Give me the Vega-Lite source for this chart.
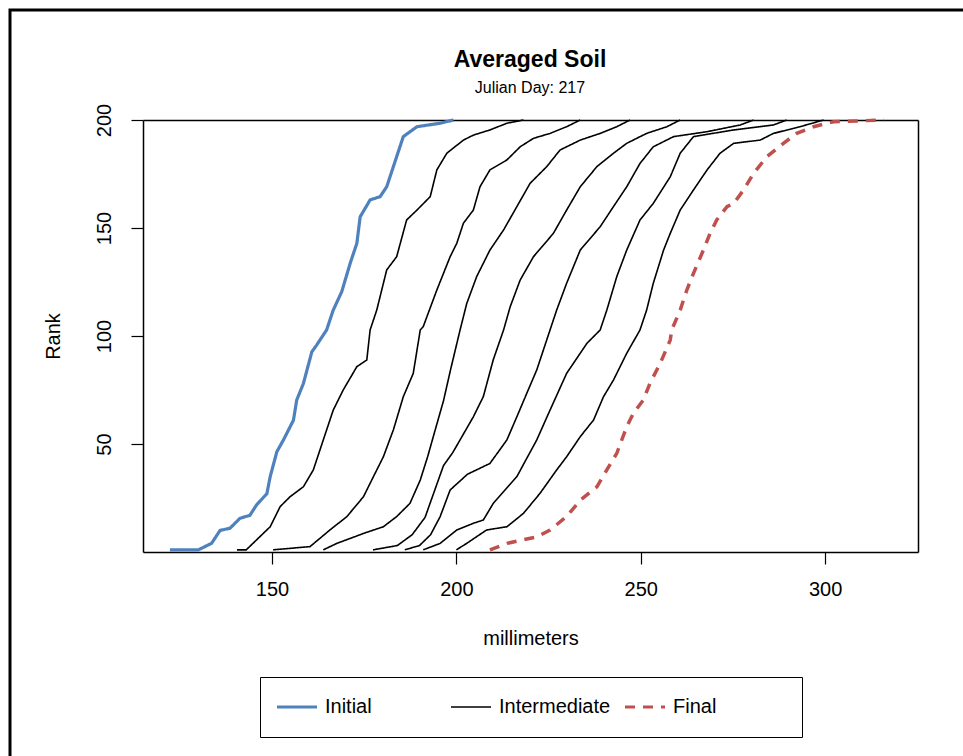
{
  "$schema": "https://vega.github.io/schema/vega-lite/v6.json",
  "width": 960,
  "height": 760,
  "autosize": "none",
  "padding": {"left": 10, "top": 10, "right": 0, "bottom": 0},
  "background": "white",
  "title": {
    "text": "Averaged Soil",
    "subtitle": "Julian Day: 217",
    "anchor": "middle",
    "frame": "group",
    "dx": 40,
    "offset": -86,
    "font": "Liberation Sans",
    "fontSize": 23,
    "fontWeight": "bold",
    "color": "black",
    "subtitleFont": "Liberation Sans",
    "subtitleFontSize": 16,
    "subtitleColor": "black",
    "subtitlePadding": 8
  },
  "data": {
    "values": [
      {"s":"I","t":"Initial","mm":122.3,"rank":1},{"s":"I","t":"Initial","mm":130,"rank":1},{"s":"I","t":"Initial","mm":133.6,"rank":4},{"s":"I","t":"Initial","mm":135.9,"rank":10},{"s":"I","t":"Initial","mm":138.6,"rank":11},{"s":"I","t":"Initial","mm":141.3,"rank":15.6},{"s":"I","t":"Initial","mm":144,"rank":17},{"s":"I","t":"Initial","mm":145.8,"rank":21.8},{"s":"I","t":"Initial","mm":148.6,"rank":27},{"s":"I","t":"Initial","mm":149.5,"rank":34.9},{"s":"I","t":"Initial","mm":151.3,"rank":46.4},{"s":"I","t":"Initial","mm":153.1,"rank":51.9},{"s":"I","t":"Initial","mm":155.8,"rank":61},{"s":"I","t":"Initial","mm":156.7,"rank":70.4},{"s":"I","t":"Initial","mm":158.5,"rank":78},{"s":"I","t":"Initial","mm":160.8,"rank":92.7},{"s":"I","t":"Initial","mm":162.1,"rank":95.8},{"s":"I","t":"Initial","mm":164.8,"rank":102.8},{"s":"I","t":"Initial","mm":166.6,"rank":112},{"s":"I","t":"Initial","mm":168.9,"rank":120.5},{"s":"I","t":"Initial","mm":171.2,"rank":133.7},{"s":"I","t":"Initial","mm":173,"rank":142.9},{"s":"I","t":"Initial","mm":173.9,"rank":155.2},{"s":"I","t":"Initial","mm":176.6,"rank":163},{"s":"I","t":"Initial","mm":179.3,"rank":164.5},{"s":"I","t":"Initial","mm":181.1,"rank":169.1},{"s":"I","t":"Initial","mm":182.9,"rank":178.4},{"s":"I","t":"Initial","mm":185.6,"rank":192.3},{"s":"I","t":"Initial","mm":189.3,"rank":196.9},{"s":"I","t":"Initial","mm":195.6,"rank":198.5},{"s":"I","t":"Initial","mm":199.2,"rank":200},

      {"s":"B1","t":"Intermediate","mm":140.5,"rank":1},{"s":"B1","t":"Intermediate","mm":143,"rank":1},{"s":"B1","t":"Intermediate","mm":145.8,"rank":5.6},{"s":"B1","t":"Intermediate","mm":149.5,"rank":11.7},{"s":"B1","t":"Intermediate","mm":152.2,"rank":21},{"s":"B1","t":"Intermediate","mm":154.9,"rank":25.6},{"s":"B1","t":"Intermediate","mm":158.5,"rank":30.2},{"s":"B1","t":"Intermediate","mm":161.2,"rank":38},{"s":"B1","t":"Intermediate","mm":163.9,"rank":51.9},{"s":"B1","t":"Intermediate","mm":166.6,"rank":65.7},{"s":"B1","t":"Intermediate","mm":169.3,"rank":75},{"s":"B1","t":"Intermediate","mm":173,"rank":85.8},{"s":"B1","t":"Intermediate","mm":175.7,"rank":88.9},{"s":"B1","t":"Intermediate","mm":176.6,"rank":102.8},{"s":"B1","t":"Intermediate","mm":178.4,"rank":112},{"s":"B1","t":"Intermediate","mm":181.1,"rank":130.6},{"s":"B1","t":"Intermediate","mm":183.8,"rank":136.7},{"s":"B1","t":"Intermediate","mm":186.5,"rank":153.7},{"s":"B1","t":"Intermediate","mm":189.3,"rank":158.3},{"s":"B1","t":"Intermediate","mm":192.9,"rank":164.5},{"s":"B1","t":"Intermediate","mm":194.7,"rank":176.9},{"s":"B1","t":"Intermediate","mm":197.4,"rank":184.6},{"s":"B1","t":"Intermediate","mm":201.9,"rank":190.7},{"s":"B1","t":"Intermediate","mm":204.6,"rank":193},{"s":"B1","t":"Intermediate","mm":209.1,"rank":195.4},{"s":"B1","t":"Intermediate","mm":213.7,"rank":198.5},{"s":"B1","t":"Intermediate","mm":218.2,"rank":200},

      {"s":"B2","t":"Intermediate","mm":150.3,"rank":1},{"s":"B2","t":"Intermediate","mm":160.3,"rank":2.5},{"s":"B2","t":"Intermediate","mm":165.7,"rank":10.2},{"s":"B2","t":"Intermediate","mm":170.3,"rank":16.4},{"s":"B2","t":"Intermediate","mm":174.8,"rank":25.6},{"s":"B2","t":"Intermediate","mm":177.5,"rank":34.9},{"s":"B2","t":"Intermediate","mm":180.2,"rank":44.1},{"s":"B2","t":"Intermediate","mm":182.9,"rank":56.5},{"s":"B2","t":"Intermediate","mm":185.6,"rank":71.9},{"s":"B2","t":"Intermediate","mm":188.3,"rank":82.7},{"s":"B2","t":"Intermediate","mm":190.2,"rank":102.8},{"s":"B2","t":"Intermediate","mm":191,"rank":104.3},{"s":"B2","t":"Intermediate","mm":194.7,"rank":121.3},{"s":"B2","t":"Intermediate","mm":198.3,"rank":136.7},{"s":"B2","t":"Intermediate","mm":200.1,"rank":142.9},{"s":"B2","t":"Intermediate","mm":201.9,"rank":152.2},{"s":"B2","t":"Intermediate","mm":204.6,"rank":158.3},{"s":"B2","t":"Intermediate","mm":206.4,"rank":169.1},{"s":"B2","t":"Intermediate","mm":209.1,"rank":176.9},{"s":"B2","t":"Intermediate","mm":213.7,"rank":181.5},{"s":"B2","t":"Intermediate","mm":217.3,"rank":187.6},{"s":"B2","t":"Intermediate","mm":220.9,"rank":191.5},{"s":"B2","t":"Intermediate","mm":225.4,"rank":193.8},{"s":"B2","t":"Intermediate","mm":229.9,"rank":196.9},{"s":"B2","t":"Intermediate","mm":233.6,"rank":200},

      {"s":"B3","t":"Intermediate","mm":163.9,"rank":1},{"s":"B3","t":"Intermediate","mm":167.6,"rank":4},{"s":"B3","t":"Intermediate","mm":174.8,"rank":8.6},{"s":"B3","t":"Intermediate","mm":180.2,"rank":11.7},{"s":"B3","t":"Intermediate","mm":183.8,"rank":16.4},{"s":"B3","t":"Intermediate","mm":187.4,"rank":22.5},{"s":"B3","t":"Intermediate","mm":190.2,"rank":33.3},{"s":"B3","t":"Intermediate","mm":192.2,"rank":44.1},{"s":"B3","t":"Intermediate","mm":194,"rank":55},{"s":"B3","t":"Intermediate","mm":196.5,"rank":70},{"s":"B3","t":"Intermediate","mm":198.5,"rank":85},{"s":"B3","t":"Intermediate","mm":201,"rank":102.8},{"s":"B3","t":"Intermediate","mm":202.8,"rank":115},{"s":"B3","t":"Intermediate","mm":205.5,"rank":127.5},{"s":"B3","t":"Intermediate","mm":209.1,"rank":139.8},{"s":"B3","t":"Intermediate","mm":212.8,"rank":149.1},{"s":"B3","t":"Intermediate","mm":216.4,"rank":159.9},{"s":"B3","t":"Intermediate","mm":220,"rank":170.7},{"s":"B3","t":"Intermediate","mm":224.5,"rank":178.4},{"s":"B3","t":"Intermediate","mm":228.1,"rank":186.1},{"s":"B3","t":"Intermediate","mm":233.6,"rank":190.7},{"s":"B3","t":"Intermediate","mm":239,"rank":193.8},{"s":"B3","t":"Intermediate","mm":243.5,"rank":196.9},{"s":"B3","t":"Intermediate","mm":247.1,"rank":200},

      {"s":"B4","t":"Intermediate","mm":177.4,"rank":1},{"s":"B4","t":"Intermediate","mm":184,"rank":3},{"s":"B4","t":"Intermediate","mm":188,"rank":8},{"s":"B4","t":"Intermediate","mm":191.5,"rank":16},{"s":"B4","t":"Intermediate","mm":194,"rank":28},{"s":"B4","t":"Intermediate","mm":196.5,"rank":40},{"s":"B4","t":"Intermediate","mm":199,"rank":46},{"s":"B4","t":"Intermediate","mm":201,"rank":51.9},{"s":"B4","t":"Intermediate","mm":204.6,"rank":62.6},{"s":"B4","t":"Intermediate","mm":207.3,"rank":71.9},{"s":"B4","t":"Intermediate","mm":210,"rank":89},{"s":"B4","t":"Intermediate","mm":212.8,"rank":102.8},{"s":"B4","t":"Intermediate","mm":214.6,"rank":113.6},{"s":"B4","t":"Intermediate","mm":217.3,"rank":125.9},{"s":"B4","t":"Intermediate","mm":220.9,"rank":136.7},{"s":"B4","t":"Intermediate","mm":226.3,"rank":147.5},{"s":"B4","t":"Intermediate","mm":229.9,"rank":158.3},{"s":"B4","t":"Intermediate","mm":233.6,"rank":169.1},{"s":"B4","t":"Intermediate","mm":238.1,"rank":178.4},{"s":"B4","t":"Intermediate","mm":242.6,"rank":184.6},{"s":"B4","t":"Intermediate","mm":246.2,"rank":189.2},{"s":"B4","t":"Intermediate","mm":251.6,"rank":193.8},{"s":"B4","t":"Intermediate","mm":257.1,"rank":196.9},{"s":"B4","t":"Intermediate","mm":260.7,"rank":200},

      {"s":"B5","t":"Intermediate","mm":186,"rank":1},{"s":"B5","t":"Intermediate","mm":190,"rank":3},{"s":"B5","t":"Intermediate","mm":193,"rank":8},{"s":"B5","t":"Intermediate","mm":195.6,"rank":16.4},{"s":"B5","t":"Intermediate","mm":198.3,"rank":28.7},{"s":"B5","t":"Intermediate","mm":203,"rank":36},{"s":"B5","t":"Intermediate","mm":209.1,"rank":41},{"s":"B5","t":"Intermediate","mm":213.7,"rank":51.9},{"s":"B5","t":"Intermediate","mm":216.4,"rank":62.6},{"s":"B5","t":"Intermediate","mm":219.1,"rank":73.5},{"s":"B5","t":"Intermediate","mm":221.8,"rank":84.3},{"s":"B5","t":"Intermediate","mm":225.4,"rank":102.8},{"s":"B5","t":"Intermediate","mm":227.2,"rank":112},{"s":"B5","t":"Intermediate","mm":229.9,"rank":124.4},{"s":"B5","t":"Intermediate","mm":233.6,"rank":139.8},{"s":"B5","t":"Intermediate","mm":239,"rank":150.6},{"s":"B5","t":"Intermediate","mm":242.6,"rank":159.9},{"s":"B5","t":"Intermediate","mm":246.2,"rank":169.1},{"s":"B5","t":"Intermediate","mm":249.8,"rank":179.9},{"s":"B5","t":"Intermediate","mm":253.4,"rank":187.6},{"s":"B5","t":"Intermediate","mm":258.9,"rank":192.3},{"s":"B5","t":"Intermediate","mm":268,"rank":194.6},{"s":"B5","t":"Intermediate","mm":277,"rank":197.7},{"s":"B5","t":"Intermediate","mm":280.6,"rank":200},

      {"s":"B6","t":"Intermediate","mm":191,"rank":1},{"s":"B6","t":"Intermediate","mm":195.6,"rank":4},{"s":"B6","t":"Intermediate","mm":200.1,"rank":10.2},{"s":"B6","t":"Intermediate","mm":204.6,"rank":13.3},{"s":"B6","t":"Intermediate","mm":207.3,"rank":14.8},{"s":"B6","t":"Intermediate","mm":210,"rank":22.5},{"s":"B6","t":"Intermediate","mm":216.4,"rank":34.9},{"s":"B6","t":"Intermediate","mm":221.8,"rank":51.9},{"s":"B6","t":"Intermediate","mm":225.4,"rank":65.7},{"s":"B6","t":"Intermediate","mm":229.9,"rank":82.7},{"s":"B6","t":"Intermediate","mm":235.4,"rank":96.6},{"s":"B6","t":"Intermediate","mm":239,"rank":102.8},{"s":"B6","t":"Intermediate","mm":240.8,"rank":112},{"s":"B6","t":"Intermediate","mm":243.5,"rank":127.5},{"s":"B6","t":"Intermediate","mm":246.2,"rank":139.8},{"s":"B6","t":"Intermediate","mm":249.8,"rank":153.7},{"s":"B6","t":"Intermediate","mm":253.4,"rank":161.4},{"s":"B6","t":"Intermediate","mm":258,"rank":173.7},{"s":"B6","t":"Intermediate","mm":260.7,"rank":184.6},{"s":"B6","t":"Intermediate","mm":264.3,"rank":192.3},{"s":"B6","t":"Intermediate","mm":275.2,"rank":195.4},{"s":"B6","t":"Intermediate","mm":286,"rank":197.7},{"s":"B6","t":"Intermediate","mm":289.6,"rank":200},

      {"s":"B7","t":"Intermediate","mm":200,"rank":1},{"s":"B7","t":"Intermediate","mm":202.8,"rank":4},{"s":"B7","t":"Intermediate","mm":208.2,"rank":10.2},{"s":"B7","t":"Intermediate","mm":213.7,"rank":11.7},{"s":"B7","t":"Intermediate","mm":218.2,"rank":17.9},{"s":"B7","t":"Intermediate","mm":222.7,"rank":27.2},{"s":"B7","t":"Intermediate","mm":227.2,"rank":38},{"s":"B7","t":"Intermediate","mm":229.9,"rank":44.1},{"s":"B7","t":"Intermediate","mm":233.6,"rank":53.4},{"s":"B7","t":"Intermediate","mm":237.2,"rank":61.1},{"s":"B7","t":"Intermediate","mm":239.9,"rank":71.9},{"s":"B7","t":"Intermediate","mm":242.6,"rank":79.6},{"s":"B7","t":"Intermediate","mm":246.2,"rank":92},{"s":"B7","t":"Intermediate","mm":249.8,"rank":102.8},{"s":"B7","t":"Intermediate","mm":251.6,"rank":112},{"s":"B7","t":"Intermediate","mm":253.4,"rank":124.4},{"s":"B7","t":"Intermediate","mm":256.2,"rank":139.8},{"s":"B7","t":"Intermediate","mm":258,"rank":147.5},{"s":"B7","t":"Intermediate","mm":260.7,"rank":158.3},{"s":"B7","t":"Intermediate","mm":264.3,"rank":167.6},{"s":"B7","t":"Intermediate","mm":268,"rank":176.9},{"s":"B7","t":"Intermediate","mm":271.5,"rank":184.6},{"s":"B7","t":"Intermediate","mm":275.2,"rank":189.2},{"s":"B7","t":"Intermediate","mm":282.4,"rank":190.7},{"s":"B7","t":"Intermediate","mm":286,"rank":193.8},{"s":"B7","t":"Intermediate","mm":293.2,"rank":196.9},{"s":"B7","t":"Intermediate","mm":299.6,"rank":200},

      {"s":"F","t":"Final","mm":209.1,"rank":1},{"s":"F","t":"Final","mm":213.7,"rank":4},{"s":"F","t":"Final","mm":221.8,"rank":7},{"s":"F","t":"Final","mm":225.4,"rank":10.2},{"s":"F","t":"Final","mm":229.9,"rank":16.4},{"s":"F","t":"Final","mm":233.6,"rank":24},{"s":"F","t":"Final","mm":238.1,"rank":30.2},{"s":"F","t":"Final","mm":240.8,"rank":38},{"s":"F","t":"Final","mm":243.5,"rank":45.7},{"s":"F","t":"Final","mm":246.2,"rank":58},{"s":"F","t":"Final","mm":248,"rank":64.2},{"s":"F","t":"Final","mm":250.7,"rank":70.4},{"s":"F","t":"Final","mm":252.5,"rank":78.1},{"s":"F","t":"Final","mm":255.3,"rank":87.4},{"s":"F","t":"Final","mm":258,"rank":98.1},{"s":"F","t":"Final","mm":258.4,"rank":102.8},{"s":"F","t":"Final","mm":260.7,"rank":112},{"s":"F","t":"Final","mm":262.5,"rank":121.3},{"s":"F","t":"Final","mm":264.3,"rank":129},{"s":"F","t":"Final","mm":267,"rank":139.8},{"s":"F","t":"Final","mm":268.8,"rank":147.5},{"s":"F","t":"Final","mm":270.6,"rank":153.7},{"s":"F","t":"Final","mm":273.4,"rank":159.9},{"s":"F","t":"Final","mm":275.2,"rank":161.4},{"s":"F","t":"Final","mm":277.9,"rank":167.6},{"s":"F","t":"Final","mm":280.6,"rank":175.3},{"s":"F","t":"Final","mm":284.2,"rank":183},{"s":"F","t":"Final","mm":288.7,"rank":189.2},{"s":"F","t":"Final","mm":292.3,"rank":193.8},{"s":"F","t":"Final","mm":296.9,"rank":196.9},{"s":"F","t":"Final","mm":302.3,"rank":199.2},{"s":"F","t":"Final","mm":316,"rank":200}
    ]
  },
  "layer": [
    {
      "transform": [{"filter": "datum.t != 'Final'"}],
      "mark": {"type": "line"},
      "encoding": {
        "x": {"field": "mm", "type": "quantitative",
              "scale": {"domain": [115, 325.2], "range": [133, 908], "nice": false, "zero": false},
              "axis": {"orient": "bottom", "offset": -218, "values": [150, 200, 250, 300], "title": "millimeters", "labelPadding": 15, "titlePadding": 29}},
        "y": {"field": "rank", "type": "quantitative",
              "scale": {"domain": [0, 200], "range": [542, 110], "nice": false, "zero": false},
              "axis": {"orient": "left", "offset": -133, "values": [50, 100, 150, 200], "title": "Rank", "labelAngle": 270, "labelAlign": "center", "labelBaseline": "bottom", "labelPadding": 17, "titlePadding": 31}},
        "detail": {"field": "s"},
        "color": {"field": "t", "type": "nominal", "scale": {"domain": ["Initial", "Intermediate", "Final"], "range": ["#4f81bd", "black", "#c0504d"]},
                  "legend": {"title": "\u00a0", "encode": {"symbols": {"update": {"strokeWidth": {"signal": "datum.value === 'Intermediate' ? 1.6 : 3.2"}}}}}},
        "strokeDash": {"field": "t", "type": "nominal", "scale": {"domain": ["Initial", "Intermediate", "Final"], "range": [[1, 0], [1, 0], [10, 8]]}, "legend": {"title": "\u00a0"}},
        "strokeWidth": {"condition": {"test": "datum.t === 'Intermediate'", "value": 1.6}, "value": 3.2}
      }
    },
    {
      "transform": [{"filter": "datum.t == 'Final'"}],
      "mark": {"type": "line", "strokeWidth": 3.5},
      "encoding": {
        "x": {"field": "mm", "type": "quantitative",
              "axis": {"orient": "top", "offset": -110, "labels": false, "ticks": false, "title": null}},
        "y": {"field": "rank", "type": "quantitative",
              "axis": {"orient": "right", "offset": -52, "labels": false, "ticks": false, "title": null}},
        "detail": {"field": "s"},
        "color": {"field": "t", "type": "nominal", "legend": {"title": "\u00a0"}},
        "strokeDash": {"field": "t", "type": "nominal", "legend": {"title": "\u00a0"}}
      }
    }
  ],
  "resolve": {"axis": {"x": "independent", "y": "independent"}},
  "config": {
    "font": "Liberation Sans",
    "view": {"stroke": "black", "strokeWidth": 3, "fill": "white"},
    "axis": {
      "grid": false,
      "domain": true,
      "domainColor": "black",
      "domainWidth": 1.5,
      "tickColor": "black",
      "tickWidth": 1.2,
      "tickSize": 12,
      "labelColor": "black",
      "labelFont": "Liberation Sans",
      "labelFontSize": 20,
      "titleFont": "Liberation Sans",
      "titleFontSize": 20,
      "titleFontWeight": "normal",
      "titleColor": "black"
    },
    "legend": {
      "orient": "none",
      "legendX": 250,
      "legendY": 667,
      "direction": "horizontal",
      "columns": 3,
      "gridAlign": "all",
      "columnPadding": 7,
      "padding": 20,
      "strokeColor": "black",
      "fillColor": "white",
      "labelFont": "Liberation Sans",
      "labelFontSize": 20,
      "labelColor": "black",
      "labelOffset": 18,
      "symbolOffset": 7,
      "symbolSize": 1600,
      "symbolType": "stroke",
      "titleOrient": "right",
      "titlePadding": 66,
      "titleFontSize": 12
    }
  }
}
